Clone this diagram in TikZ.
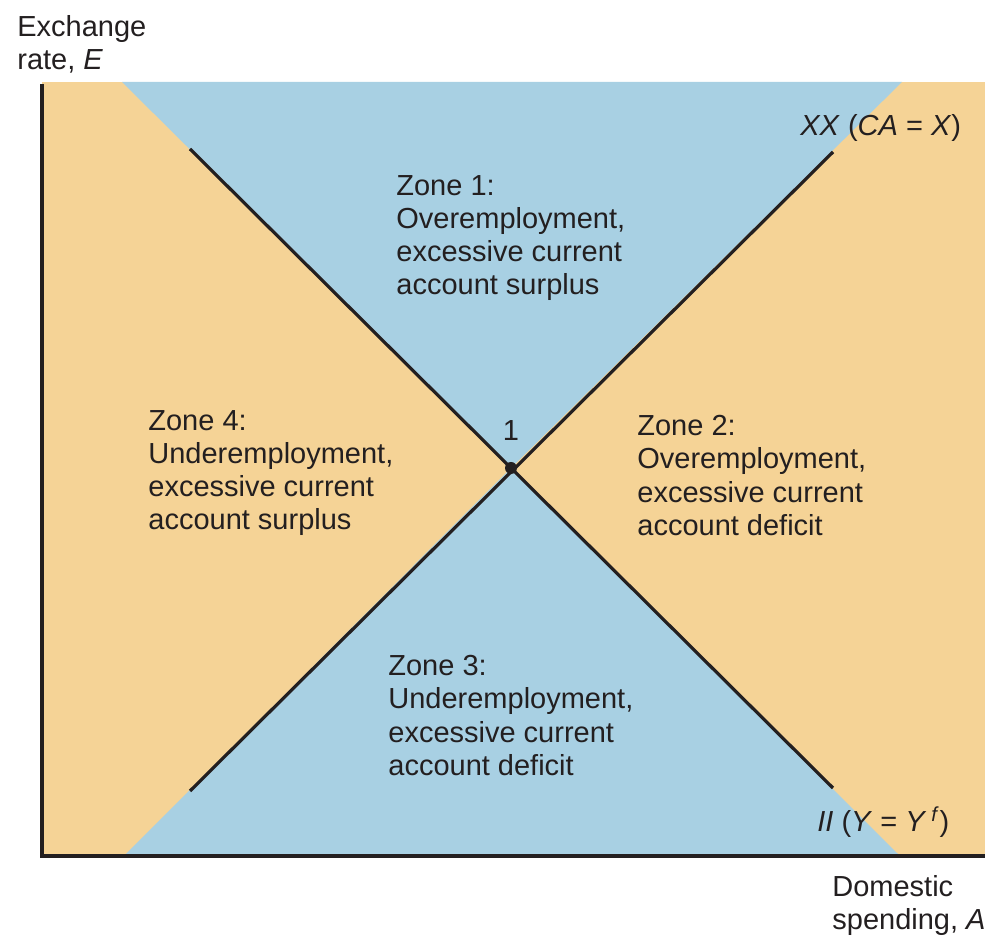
\documentclass[tikz,border=0pt]{standalone}
\usepackage{fontspec}
\setmainfont{Liberation Sans}
\usetikzlibrary{positioning}
\definecolor{ZoneOrange}{RGB}{245,211,150}
\definecolor{ZoneBlue}{RGB}{168,208,227}
\definecolor{InkDark}{RGB}{35,31,32}
\tikzset{
  zonetext/.style={anchor=north west,inner sep=0pt,align=left,text=InkDark,
    font=\fontsize{14.5}{16.6}\selectfont},
  curvelabel/.style={anchor=base west,inner sep=0pt,text=InkDark,
    font=\fontsize{14.5}{16.6}\selectfont}
}
\begin{document}
\begin{tikzpicture}[x=0.5pt,y=-0.5pt]
      \useasboundingbox (0,0) rectangle (1003,940);
      % shaded zones
      \fill[ZoneOrange] (42,82) rectangle (985,856);
      \fill[ZoneBlue] (122,82) -- (902,82) -- (511,468) -- cycle;
      \fill[ZoneBlue] (124,856) -- (900,856) -- (511,468) -- cycle;
      % axes
      \coordinate (O) at (42,856);
      \coordinate (ytop) at (42,84);
      \coordinate (xend) at (985,856);
      \draw[line width=1.8pt,InkDark] (ytop) -- (O) -- (xend);
      % II and XX schedules
      \coordinate (ii-start) at (190,149);
      \coordinate (ii-end) at (833,788);
      \coordinate (xx-start) at (190,791);
      \coordinate (xx-end) at (833,152);
      \draw[line width=1.6pt,InkDark] (ii-start) -- (ii-end);
      \draw[line width=1.6pt,InkDark] (xx-start) -- (xx-end);
      \node[circle,fill=InkDark,inner sep=0pt,minimum size=6pt] (eq) at (511,468) {};
      \node[curvelabel,anchor=base] (eqlab) at (511,441) {1};
      \node[curvelabel] (xxlab) at (800,136)
        {\textit{XX} (\textit{CA} = \textit{X})};
      \node[curvelabel] (iilab) at (817,832)
        {\textit{II} (\textit{Y} = \textit{Y}\,\textsuperscript{\textit{f}})};
      % zone texts
      \node[zonetext] (zone1) at (396,175)
        {Zone 1:\\Overemployment,\\excessive current\\account surplus};
      \node[zonetext] (zone2) at (637,415)
        {Zone 2:\\Overemployment,\\excessive current\\account deficit};
      \node[zonetext] (zone3) at (388,655)
        {Zone 3:\\Underemployment,\\excessive current\\account deficit};
      \node[zonetext] (zone4) at (148,410)
        {Zone 4:\\Underemployment,\\excessive current\\account surplus};
      % axis titles
      \node[zonetext] (ylab) at (17,15) {Exchange\\rate, \textit{E}};
      \node[zonetext] (xlab) at (832,875) {Domestic\\spending, \textit{A}};
    \end{tikzpicture}
\end{document}
